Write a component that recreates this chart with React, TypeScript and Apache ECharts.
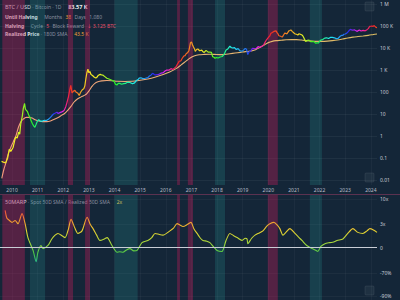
import React, { useEffect, useRef } from "react";
import * as echarts from "echarts";

// ---- axis ranges & tick labels ----
const X_MIN = 2009.53;
const X_MAX = 2024.24;
const yearTicks = [2010, 2011, 2012, 2013, 2014, 2015, 2016, 2017, 2018, 2019, 2020, 2021, 2022, 2023, 2024];
const priceTickExps = [-2, -1, 0, 1, 2, 3, 4, 5, 6];
const priceTickLabels = ["0.01", "0.1", "1", "10", "100", "1 K", "10 K", "100 K", "1 M"];
const oscTickRatios = [10, 3, 1, 0.3, 0.1];
const oscTickLabels = ["10x", "3x", "0", "-70%", "-90%"];

// ---- BTC price (date on chart axis, USD) ----
const pricePoints: [number, number][] = [
  [2009.59, 0.07], [2009.66, 0.065], [2009.75, 0.06], [2009.83, 0.1], [2009.89, 0.25], [2009.95, 0.2],
  [2010.04, 0.3], [2010.1, 0.6], [2010.14, 0.9], [2010.2, 0.8], [2010.26, 1.5], [2010.3, 1.2],
  [2010.34, 3.5], [2010.4, 8], [2010.44, 18], [2010.49, 30], [2010.52, 17], [2010.55, 15],
  [2010.6, 13], [2010.65, 9], [2010.7, 7], [2010.74, 5], [2010.8, 3.5], [2010.85, 2.8],
  [2010.89, 2.5], [2010.93, 3.2], [2010.98, 4.5], [2011.04, 5.5], [2011.12, 4.6], [2011.2, 4.9],
  [2011.27, 5.2], [2011.34, 5.0], [2011.42, 5.8], [2011.5, 7], [2011.56, 8.5], [2011.62, 10],
  [2011.69, 11], [2011.75, 12], [2011.8, 10.5], [2011.87, 11.5], [2011.94, 12.5], [2012.0, 13.5],
  [2012.04, 15], [2012.1, 22], [2012.14, 32], [2012.2, 60], [2012.25, 120], [2012.29, 200],
  [2012.31, 150], [2012.34, 90], [2012.4, 110], [2012.45, 120], [2012.5, 98], [2012.56, 90],
  [2012.62, 70], [2012.68, 100], [2012.74, 125], [2012.8, 140], [2012.84, 190], [2012.88, 400],
  [2012.92, 750], [2012.96, 1100], [2013.0, 750], [2013.04, 850], [2013.08, 620], [2013.14, 560],
  [2013.2, 480], [2013.25, 440], [2013.3, 450], [2013.37, 580], [2013.44, 630], [2013.5, 590],
  [2013.55, 580], [2013.62, 500], [2013.7, 420], [2013.78, 390], [2013.85, 360], [2013.92, 330],
  [2013.98, 310], [2014.04, 220], [2014.1, 210], [2014.15, 250], [2014.2, 245], [2014.28, 225],
  [2014.35, 238], [2014.42, 245], [2014.5, 280], [2014.6, 270], [2014.7, 235], [2014.78, 260],
  [2014.85, 330], [2014.92, 370], [2014.96, 430], [2015.03, 440], [2015.1, 405], [2015.2, 420],
  [2015.3, 450], [2015.36, 530], [2015.42, 580], [2015.46, 660], [2015.5, 700], [2015.55, 620],
  [2015.6, 600], [2015.68, 610], [2015.75, 650], [2015.82, 720], [2015.9, 760], [2015.97, 900],
  [2016.04, 1000], [2016.12, 980], [2016.2, 1150], [2016.28, 1050], [2016.35, 1250], [2016.4, 1400],
  [2016.45, 1800], [2016.52, 2500], [2016.59, 2600], [2016.64, 3400], [2016.7, 4300], [2016.75, 4500],
  [2016.8, 5600], [2016.85, 6100], [2016.9, 7500], [2016.93, 11000], [2016.96, 17000], [2017.0, 19000],
  [2017.04, 14000], [2017.08, 11000], [2017.12, 9000], [2017.15, 7000], [2017.2, 8500], [2017.25, 9000],
  [2017.32, 7500], [2017.4, 8000], [2017.45, 6800], [2017.5, 6300], [2017.57, 7800], [2017.65, 6500],
  [2017.72, 6500], [2017.78, 6300], [2017.83, 4000], [2017.88, 3800], [2017.92, 3400], [2017.98, 3700],
  [2018.04, 3500], [2018.12, 3900], [2018.2, 4100], [2018.28, 5300], [2018.35, 8000], [2018.42, 9000],
  [2018.5, 12000], [2018.55, 10500], [2018.6, 10000], [2018.68, 10400], [2018.75, 8500], [2018.82, 9300],
  [2018.9, 7300], [2018.98, 7200], [2019.05, 8400], [2019.1, 9500], [2019.15, 8700], [2019.2, 5000],
  [2019.25, 6800], [2019.3, 7000], [2019.38, 9500], [2019.45, 9300], [2019.52, 9200], [2019.6, 11500],
  [2019.68, 10700], [2019.75, 12000], [2019.82, 13500], [2019.87, 18000], [2019.93, 23500], [2020.02, 32000],
  [2020.06, 36000], [2020.1, 47000], [2020.15, 50000], [2020.2, 55000], [2020.25, 58000], [2020.3, 60000],
  [2020.34, 50000], [2020.37, 45000], [2020.41, 36000], [2020.45, 35000], [2020.5, 33000], [2020.55, 32000],
  [2020.6, 40000], [2020.64, 47000], [2020.68, 46000], [2020.73, 44000], [2020.8, 60000], [2020.84, 62000],
  [2020.88, 66000], [2020.93, 57000], [2021.0, 48000], [2021.05, 43000], [2021.1, 42000], [2021.15, 39000],
  [2021.2, 44000], [2021.27, 41000], [2021.33, 38000], [2021.38, 30000], [2021.45, 20000], [2021.5, 21000],
  [2021.55, 23000], [2021.6, 22500], [2021.65, 19500], [2021.7, 20000], [2021.78, 19500], [2021.85, 16500],
  [2021.9, 17000], [2021.95, 16800], [2022.0, 20000], [2022.05, 23000], [2022.12, 24000], [2022.2, 28000],
  [2022.27, 29000], [2022.35, 27000], [2022.42, 30000], [2022.5, 30500], [2022.58, 29000], [2022.65, 26500],
  [2022.72, 27000], [2022.8, 34000], [2022.85, 37000], [2022.9, 37000], [2022.95, 42000], [2023.0, 43000],
  [2023.05, 46000], [2023.1, 52000], [2023.15, 62000], [2023.2, 70000], [2023.25, 66000], [2023.3, 64000],
  [2023.35, 67000], [2023.4, 62000], [2023.47, 57000], [2023.55, 66000], [2023.62, 59000], [2023.7, 63000],
  [2023.78, 60000], [2023.85, 68000], [2023.9, 76000], [2023.95, 95000], [2024.0, 97000], [2024.04, 100000],
  [2024.08, 94000], [2024.12, 104000], [2024.16, 96000], [2024.2, 86000], [2024.24, 83570],
];

// ---- Realized price, 180D SMA (USD) ----
const realizedPoints: [number, number][] = [
  [2009.6, 0.012], [2009.68, 0.03], [2009.76, 0.06], [2009.85, 0.15], [2009.95, 0.3], [2010.05, 0.55],
  [2010.15, 1.0], [2010.25, 2.5], [2010.35, 4.5], [2010.45, 6.0], [2010.55, 7], [2010.65, 7],
  [2010.78, 6.5], [2010.9, 5.5], [2011.05, 4.8], [2011.2, 4.5], [2011.35, 4.5], [2011.5, 4.8],
  [2011.65, 5.8], [2011.8, 7], [2011.95, 9], [2012.05, 10.5], [2012.18, 15], [2012.3, 22],
  [2012.42, 35], [2012.55, 48], [2012.7, 60], [2012.82, 70], [2012.92, 85], [2013.02, 120],
  [2013.12, 180], [2013.22, 240], [2013.35, 290], [2013.5, 320], [2013.7, 330], [2013.9, 325],
  [2014.1, 305], [2014.4, 300], [2014.7, 305], [2015.0, 340], [2015.3, 390], [2015.6, 480],
  [2015.9, 620], [2016.15, 800], [2016.4, 1150], [2016.6, 1700], [2016.8, 2600], [2016.95, 3500],
  [2017.1, 4300], [2017.3, 4900], [2017.5, 5100], [2017.7, 5200], [2017.9, 5100], [2018.1, 5000],
  [2018.3, 5100], [2018.5, 5500], [2018.7, 5900], [2018.9, 6300], [2019.1, 6800], [2019.3, 7200],
  [2019.5, 8300], [2019.7, 11000], [2019.85, 14000], [2020.0, 17500], [2020.15, 20000], [2020.3, 21500],
  [2020.5, 22500], [2020.7, 23500], [2020.9, 24000], [2021.1, 24000], [2021.3, 23000], [2021.5, 21500],
  [2021.7, 20500], [2021.9, 20000], [2022.1, 20000], [2022.3, 20500], [2022.5, 21500], [2022.7, 23000],
  [2022.9, 25500], [2023.1, 28500], [2023.3, 31000], [2023.5, 33000], [2023.7, 35000], [2023.9, 37500],
  [2024.1, 41000], [2024.24, 43500],
];

// ---- 50MARP: Spot 50D SMA / Realized 50D SMA (ratio) ----
const marpPoints: [number, number][] = [
  [2009.73, 5.8], [2009.8, 4.0], [2009.9, 3.6], [2010.0, 3.3], [2010.12, 3.6], [2010.23, 3.1],
  [2010.39, 5.0], [2010.51, 3.1], [2010.62, 1.6], [2010.82, 0.87], [2010.94, 0.51], [2011.01, 0.8],
  [2011.13, 1.1], [2011.21, 0.95], [2011.4, 1.1], [2011.55, 1.5], [2011.68, 1.8], [2011.79, 1.95],
  [2011.95, 1.75], [2012.07, 1.6], [2012.2, 2.4], [2012.3, 3.8], [2012.46, 2.45], [2012.57, 1.95],
  [2012.73, 2.2], [2012.93, 4.2], [2013.05, 3.0], [2013.16, 2.45], [2013.3, 1.8], [2013.43, 1.4],
  [2013.6, 1.5], [2013.71, 1.6], [2013.9, 1.1], [2014.1, 0.8], [2014.2, 0.82], [2014.33, 0.8],
  [2014.45, 0.88], [2014.6, 0.95], [2014.75, 0.85], [2014.88, 0.87], [2015.07, 1.26], [2015.3, 1.4],
  [2015.45, 1.6], [2015.58, 1.95], [2015.75, 1.85], [2015.89, 1.8], [2016.16, 2.2], [2016.3, 2.5],
  [2016.44, 3.1], [2016.55, 2.9], [2016.67, 2.7], [2016.85, 3.0], [2016.98, 3.3], [2017.1, 2.4],
  [2017.22, 1.95], [2017.35, 1.55], [2017.45, 1.4], [2017.6, 1.35], [2017.72, 1.26], [2017.85, 1.05],
  [2018.0, 0.87], [2018.19, 0.83], [2018.35, 1.4], [2018.5, 1.95], [2018.65, 1.75], [2018.78, 1.6],
  [2018.97, 1.4], [2019.1, 1.55], [2019.17, 1.5], [2019.2, 1.2], [2019.35, 1.55], [2019.48, 1.8],
  [2019.65, 2.0], [2019.79, 2.2], [2019.95, 2.8], [2020.06, 3.1], [2020.22, 3.3], [2020.35, 2.9],
  [2020.45, 2.45], [2020.57, 1.8], [2020.7, 2.1], [2020.84, 2.45], [2021.04, 1.95], [2021.2, 1.6],
  [2021.31, 1.4], [2021.5, 1.1], [2021.7, 0.95], [2021.85, 0.88], [2021.93, 0.83], [2022.05, 1.05],
  [2022.21, 1.2], [2022.4, 1.26], [2022.55, 1.3], [2022.68, 1.4], [2022.91, 1.5], [2023.1, 1.95],
  [2023.3, 2.45], [2023.49, 2.05], [2023.69, 1.95], [2023.85, 2.2], [2023.96, 2.45], [2024.1, 2.3],
  [2024.24, 2.05],
];

// ---- cycle highlight bands (date ranges on chart axis) ----
const hotBands: [number, number][] = [
  [2009.62, 2010.5], [2012.18, 2012.38], [2012.85, 2013.04], [2016.44, 2016.55], [2016.86, 2017.06], [2019.98, 2020.37],
];
const coldBands: [number, number][] = [
  [2010.7, 2011.29], [2014.0, 2014.9], [2017.92, 2018.31], [2021.62, 2022.09],
];

// ---- rainbow hue keyed on the time axis ----
const hueYears = [2009.53, 2010.2, 2010.47, 2010.78, 2011.17, 2011.56, 2011.95, 2012.26, 2012.57, 2012.96, 2013.43, 2014.02, 2014.8, 2015.38, 2015.97, 2016.47, 2016.94, 2017.45, 2018.0, 2018.58, 2019.17, 2019.56, 2020.06, 2020.73, 2021.31, 2021.82, 2022.4, 2022.99, 2023.49, 2024.08, 2024.24];
const hueValues = [55, 60, 90, 120, 180, 220, 300, 360, 390, 415, 420, 480, 540, 580, 660, 720, 750, 780, 840, 900, 940, 1020, 1080, 1110, 1140, 1200, 1260, 1300, 1380, 1440, 1450];

function hslHex(h: number, s: number, l: number): string {
  h = ((h % 360) + 360) % 360;
  const c = (1 - Math.abs(2 * l - 1)) * s;
  const x = c * (1 - Math.abs(((h / 60) % 2) - 1));
  const m = l - c / 2;
  let rgb: number[];
  if (h < 60) rgb = [c, x, 0];
  else if (h < 120) rgb = [x, c, 0];
  else if (h < 180) rgb = [0, c, x];
  else if (h < 240) rgb = [0, x, c];
  else if (h < 300) rgb = [x, 0, c];
  else rgb = [c, 0, x];
  return "#" + rgb.map((v) => Math.round((v + m) * 255).toString(16).padStart(2, "0")).join("");
}

function hueAt(year: number): number {
  for (let i = 1; i < hueYears.length; i++) {
    if (year <= hueYears[i]) {
      const t = (year - hueYears[i - 1]) / (hueYears[i] - hueYears[i - 1]);
      return hueValues[i - 1] + t * (hueValues[i] - hueValues[i - 1]);
    }
  }
  return hueValues[hueValues.length - 1];
}

const rainbow: string[] = [];
for (let i = 0; i < 240; i++) {
  const yr = X_MIN + ((X_MAX - X_MIN) * i) / 239;
  rainbow.push(hslHex(hueAt(yr), 0.88, 0.54));
}

const BG = "#142638";
const FONT = "'Noto Sans', 'DejaVu Sans', sans-serif";
const HOT = "rgba(190, 30, 90, 0.38)";
const COLD = "rgba(40, 170, 165, 0.2)";

function bandAreas() {
  return [
    ...hotBands.map(([a, b]) => [{ xAxis: a, itemStyle: { color: HOT } }, { xAxis: b }]),
    ...coldBands.map(([a, b]) => [{ xAxis: a, itemStyle: { color: COLD } }, { xAxis: b }]),
  ];
}

const rich = {
  w: { fill: "#d8dbe2", fontSize: 5.5, fontFamily: FONT },
  wb: { fill: "#e4e6ec", fontSize: 5, fontFamily: FONT, fontWeight: "bold" },
  g: { fill: "#8a90a0", fontSize: 5, fontFamily: FONT },
  b: { fill: "#eceef2", fontSize: 5.5, fontFamily: FONT, fontWeight: "bold" },
  o: { fill: "#f2a03a", fontSize: 5, fontFamily: FONT },
  r: { fill: "#e8506a", fontSize: 5, fontFamily: FONT },
  y: { fill: "#e6c24a", fontSize: 5, fontFamily: FONT },
};

export default function App() {
  const ref = useRef<HTMLDivElement>(null);
  useEffect(() => {
    if (!ref.current) return;
    const chart = echarts.init(ref.current, undefined, { renderer: "svg" });
    const xAxisBase = {
      type: "value",
      min: X_MIN,
      max: X_MAX,
      axisLine: { show: false },
      axisTick: { show: false, customValues: yearTicks },
      splitLine: { show: true, lineStyle: { color: "rgba(255,255,255,0.035)", width: 1 } },
    };
    const option: any = {
      animation: false,
      backgroundColor: BG,
      grid: [
        { left: 0, right: 23, top: 0, height: 185 },
        { left: 0, right: 23, top: 195, height: 105 },
      ],
      xAxis: [
        {
          ...xAxisBase,
          gridIndex: 0,
          axisLabel: {
            customValues: yearTicks,
            color: "#b8bcc8",
            fontSize: 5,
            fontFamily: FONT,
            margin: 2,
            formatter: (v: number) => String(Math.round(v)),
          },
        },
        { ...xAxisBase, gridIndex: 1, axisLabel: { show: false } },
      ],
      yAxis: [
        {
          type: "value",
          gridIndex: 0,
          position: "right",
          min: -2.227,
          max: 6.18,
          axisLine: { show: false },
          axisTick: { show: false, customValues: priceTickExps },
          splitLine: { show: true, lineStyle: { color: "rgba(255,255,255,0.05)" } },
          axisLabel: {
            customValues: priceTickExps,
            color: "#c8ccd6",
            fontSize: 5,
            fontFamily: FONT,
            margin: 3,
            formatter: (v: number) => priceTickLabels[priceTickExps.indexOf(Math.round(v))] ?? "",
          },
        },
        {
          type: "value",
          gridIndex: 1,
          position: "right",
          min: -1.082,
          max: 1.082,
          axisLine: { show: false },
          axisTick: { show: false, customValues: oscTickRatios.map((r) => Math.log10(r)) },
          splitLine: { show: true, lineStyle: { color: "rgba(255,255,255,0.04)" } },
          axisLabel: {
            customValues: oscTickRatios.map((r) => Math.log10(r)),
            color: "#c8ccd6",
            fontSize: 5,
            fontFamily: FONT,
            margin: 3,
            formatter: (v: number) => {
              let best = 0;
              oscTickRatios.forEach((r, i) => {
                if (Math.abs(Math.log10(r) - v) < Math.abs(Math.log10(oscTickRatios[best]) - v)) best = i;
              });
              return oscTickLabels[best];
            },
          },
        },
      ],
      visualMap: [
        { type: "continuous", show: false, seriesIndex: 2, dimension: 0, min: X_MIN, max: X_MAX, inRange: { color: rainbow } },
        {
          type: "continuous",
          show: false,
          seriesIndex: 4,
          dimension: 1,
          min: -0.35,
          max: 0.8,
          inRange: { color: ["#1fb59a", "#4cc846", "#a8d83a", "#e8d030", "#f09030", "#f04040"] },
        },
      ],
      series: [
        {
          type: "line",
          xAxisIndex: 0,
          yAxisIndex: 0,
          data: [],
          z: 1,
          silent: true,
          markArea: { silent: true, data: bandAreas() },
        },
        {
          type: "line",
          name: "Realized Price",
          xAxisIndex: 0,
          yAxisIndex: 0,
          data: realizedPoints.map(([d, v]) => [d, Math.log10(v)]),
          showSymbol: false,
          smooth: 0.3,
          lineStyle: {
            width: 1.1,
            color: new echarts.graphic.LinearGradient(0, 0, 1, 0, [
              { offset: 0, color: "#f39a7c" },
              { offset: 0.5, color: "#eab274" },
              { offset: 1, color: "#dcbc62" },
            ]),
          },
          z: 3,
        },
        {
          type: "line",
          name: "BTC / USD",
          xAxisIndex: 0,
          yAxisIndex: 0,
          data: pricePoints.map(([d, v]) => [d, Math.log10(v)]),
          showSymbol: false,
          lineStyle: { width: 1.2 },
          z: 4,
        },
        {
          type: "line",
          xAxisIndex: 1,
          yAxisIndex: 1,
          data: [],
          z: 1,
          silent: true,
          markArea: { silent: true, data: bandAreas() },
          markLine: {
            silent: true,
            symbol: ["none", "none"],
            label: { show: false },
            lineStyle: { color: "#c9cdd6", width: 1, type: "solid" },
            data: [{ yAxis: 0 }],
          },
        },
        {
          type: "line",
          name: "50MARP",
          xAxisIndex: 1,
          yAxisIndex: 1,
          data: marpPoints.map(([d, r]) => [d, Math.log10(r)]),
          showSymbol: false,
          smooth: 0.25,
          lineStyle: { width: 1.1 },
          z: 4,
        },
      ],
      graphic: [
        { type: "rect", shape: { x: 0, y: 194, width: 400, height: 1 }, style: { fill: "rgba(150,60,100,0.55)" }, silent: true },
        { type: "rect", shape: { x: 365, y: 2, width: 9, height: 9, r: 1 }, style: { fill: "rgba(255,255,255,0.05)", stroke: "rgba(255,255,255,0.12)", lineWidth: 0.6 }, silent: true },
        { type: "rect", shape: { x: 365, y: 173, width: 9, height: 9, r: 1 }, style: { fill: "rgba(255,255,255,0.05)", stroke: "rgba(255,255,255,0.12)", lineWidth: 0.6 }, silent: true },
        { type: "rect", shape: { x: 365, y: 286, width: 9, height: 9, r: 1 }, style: { fill: "rgba(255,255,255,0.05)", stroke: "rgba(255,255,255,0.12)", lineWidth: 0.6 }, silent: true },
        {
          type: "text",
          silent: true,
          style: { x: 5, y: 7, verticalAlign: "middle", text: "{w|BTC / USD}{g| · Bitcoin · 1D}  {b|83.57 K}", rich },
        },
        {
          type: "text",
          silent: true,
          style: { x: 5, y: 16.5, verticalAlign: "middle", text: "{wb|Until Halving}  {g|Months} {o|38} {g|Days} {g|1,080}", rich },
        },
        {
          type: "text",
          silent: true,
          style: { x: 5, y: 25.5, verticalAlign: "middle", text: "{wb|Halving}  {g|Cycle} {r|5} {g|Block Reward} {r|↓ 3.125 BTC}", rich },
        },
        {
          type: "text",
          silent: true,
          style: { x: 5, y: 34, verticalAlign: "middle", text: "{wb|Realized Price}{g| · 180D SMA}  {o|43.5 K}", rich },
        },
        {
          type: "text",
          silent: true,
          style: { x: 5, y: 202, verticalAlign: "middle", text: "{w|50MARP}{g| · Spot 50D SMA / Realized 50D SMA}  {y|2x}", rich },
        },
      ],
    };
    chart.setOption(option);
    return () => chart.dispose();
  }, []);
  return <div ref={ref} style={{ width: 400, height: 300, position: "fixed", left: 0, top: 0 }} />;
}
